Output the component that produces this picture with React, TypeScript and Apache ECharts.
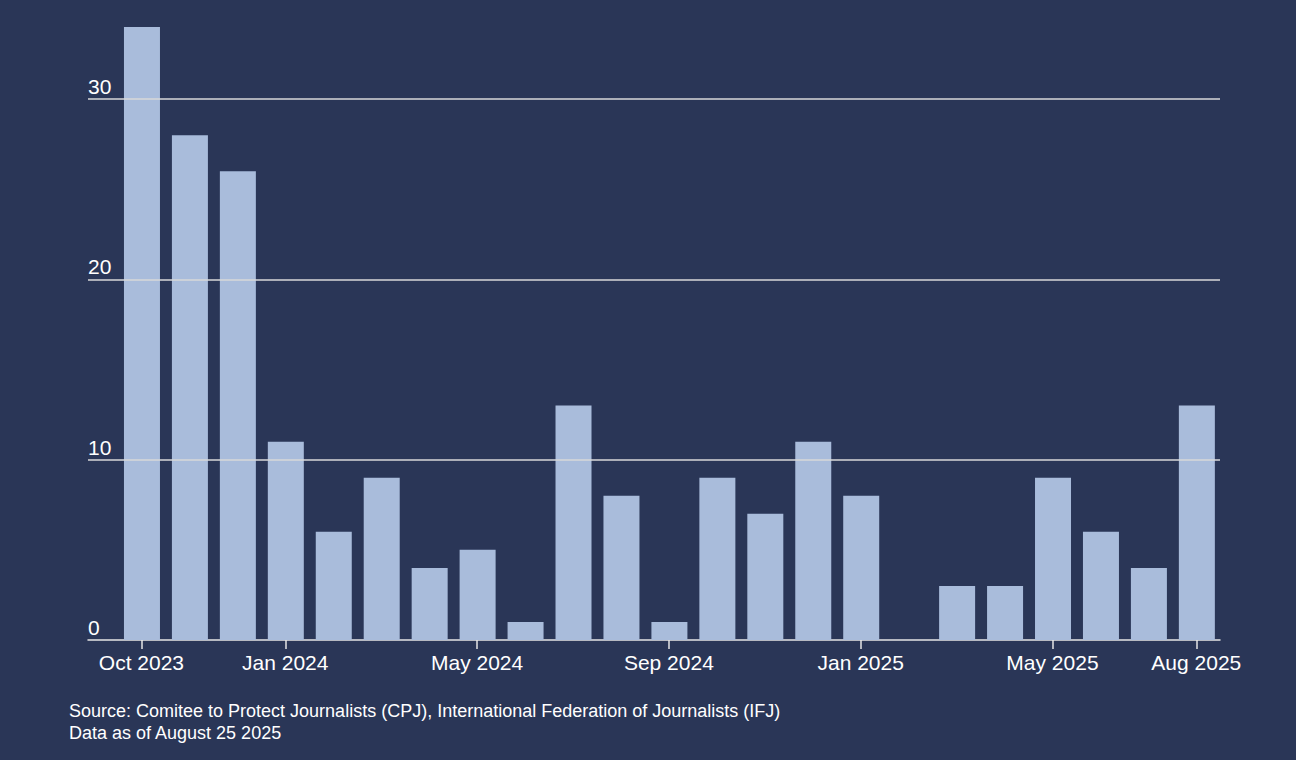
import React, { useEffect, useRef } from "react";
import * as echarts from "echarts";

const months = [
  "Oct 2023", "Nov 2023", "Dec 2023", "Jan 2024", "Feb 2024", "Mar 2024", "Apr 2024",
  "May 2024", "Jun 2024", "Jul 2024", "Aug 2024", "Sep 2024", "Oct 2024", "Nov 2024",
  "Dec 2024", "Jan 2025", "Feb 2025", "Mar 2025", "Apr 2025", "May 2025", "Jun 2025",
  "Jul 2025", "Aug 2025",
];
const killed = [34, 28, 26, 11, 6, 9, 4, 5, 1, 13, 8, 1, 9, 7, 11, 8, 0, 3, 3, 9, 6, 4, 13];
const labelledMonths = ["Oct 2023", "Jan 2024", "May 2024", "Sep 2024", "Jan 2025", "May 2025", "Aug 2025"];
const yTicks = [0, 10, 20, 30];
const footer = [
  "Source: Comitee to Protect Journalists (CPJ), International Federation of Journalists (IFJ)",
  "Data as of August 25 2025",
];

const FONT = "'Liberation Sans', Arial, sans-serif";

export default function App() {
  const ref = useRef<HTMLDivElement>(null);
  useEffect(() => {
    document.body.style.margin = "0";
    const chart = echarts.init(ref.current!, null, { renderer: "svg" });
    const labelIdx = labelledMonths.map((m) => months.indexOf(m));
    chart.setOption({
      animation: false,
      backgroundColor: "#2a3657",
      textStyle: { fontFamily: FONT },
      title: {
        text: footer.join("\n"),
        left: 64,
        top: 695,
        textStyle: { color: "#ffffff", fontSize: 18, fontWeight: "normal", lineHeight: 22, fontFamily: FONT },
      },
      grid: { left: 88, right: 76, top: 27, bottom: 120 },
      xAxis: {
        type: "value",
        min: -1.114,
        max: 22.494,
        splitLine: { show: false },
        axisLine: { show: true, lineStyle: { color: "#e6e6e6", width: 1.5 } },
        axisTick: {
          show: true,
          length: 9,
          lineStyle: { color: "#e6e6e6", width: 1.5 },
          customValues: labelIdx,
        },
        axisLabel: {
          customValues: labelIdx,
          formatter: (v: number) => months[Math.round(v)],
          color: "#ffffff",
          fontSize: 21,
          margin: 12,
          fontFamily: FONT,
        },
      },
      yAxis: {
        type: "value",
        min: 0,
        max: 34,
        splitLine: { show: false },
        axisLine: { show: false },
        axisTick: { show: false },
        axisLabel: {
          customValues: yTicks,
          inside: true,
          margin: 0,
          align: "left",
          verticalAlign: "bottom",
          padding: [0, 0, 2, 0],
          color: "#ffffff",
          fontSize: 21,
          fontFamily: FONT,
        },
      },
      series: [
        {
          type: "bar",
          data: [],
          z: 1,
          silent: true,
          markLine: {
            silent: true,
            symbol: "none",
            label: { show: false },
            lineStyle: { color: "#d9d9d9", width: 1.5, type: "solid" },
            data: yTicks.filter((t) => t > 0).map((t) => ({ yAxis: t })),
          },
        },
        {
          type: "bar",
          z: 3,
          barWidth: 36,
          itemStyle: { color: "#a9bcdb" },
          data: killed.map((v, i) => [i, v]),
        },
      ],
    });
    return () => chart.dispose();
  }, []);
  return <div ref={ref} style={{ width: 1296, height: 760 }} />;
}
